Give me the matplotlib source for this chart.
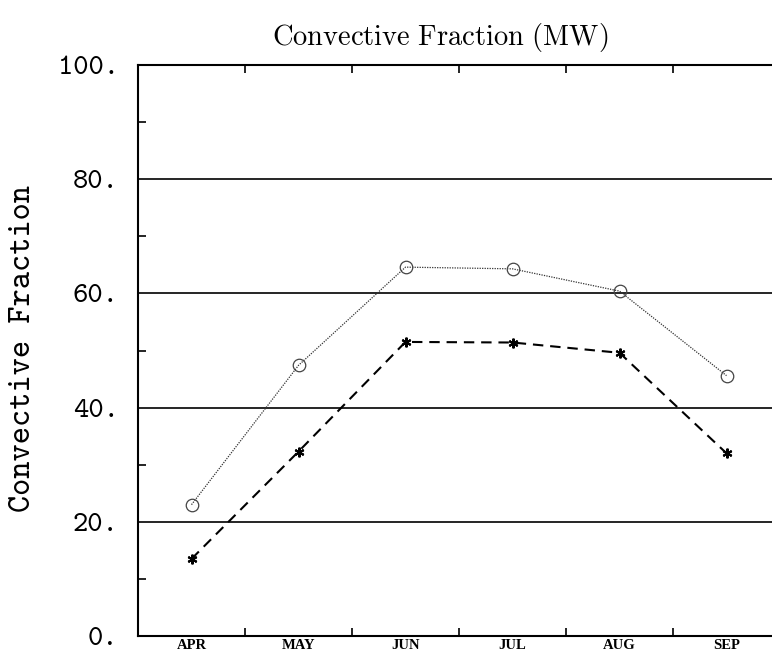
import os
import matplotlib
matplotlib.use("Agg")
import matplotlib.pyplot as plt
from matplotlib.ticker import FixedLocator
from matplotlib.font_manager import FontProperties

months = ['APR', 'MAY', 'JUN', 'JUL', 'AUG', 'SEP']
circle_vals = [23.0, 47.4, 64.6, 64.3, 60.4, 45.6]
star_vals = [13.5, 32.3, 51.5, 51.4, 49.6, 32.0]
y_ticks = [0, 20, 40, 60, 80, 100]
y_labels = ['0.', '20.', '40.', '60.', '80.', '100.']

plt.rcParams['mathtext.fontset'] = 'cm'
tt_path = os.path.join(matplotlib.get_data_path(), 'fonts', 'ttf', 'cmtt10.ttf')
tt_ticks = FontProperties(fname=tt_path, size=21)
tt_label = FontProperties(fname=tt_path, size=23.6)

W, H = 772, 653
fig = plt.figure(figsize=(W / 100, H / 100), dpi=100)
ax_l, ax_r, ax_t, ax_b = 138, 780, 65, 636
ax = fig.add_axes([ax_l / W, 1 - ax_b / H, (ax_r - ax_l) / W, (ax_b - ax_t) / H])

x = list(range(1, len(months) + 1))

for yv in [20, 40, 60, 80]:
    ax.axhline(yv, color='black', lw=1.2, zorder=1)

ax.plot(x, circle_vals, color='#333333', lw=0.9, linestyle=(0, (1, 1)),
        marker='o', markersize=9, markerfacecolor='none',
        markeredgecolor='#444444', markeredgewidth=0.9, zorder=3)
ax.plot(x, star_vals, color='black', lw=1.5, linestyle=(0, (5, 3.3)),
        marker=(6, 2, 0), markersize=7, markeredgecolor='black',
        markeredgewidth=1.5, zorder=3)

ax.set_xlim(0.5, 6.5)
ax.set_ylim(0, 100)

ax.set_xticks(x)
ax.set_xticklabels(months, fontfamily='Liberation Serif', fontweight='bold',
                   fontsize=10.5)
ax.tick_params(axis='x', which='major', length=0, pad=2)
ax.xaxis.set_minor_locator(FixedLocator([1.5, 2.5, 3.5, 4.5, 5.5]))
ax.tick_params(axis='x', which='minor', direction='in', length=6, width=1.2,
               top=True, bottom=True)

ax.set_yticks(y_ticks)
ax.set_yticklabels(y_labels)
for lab in ax.get_yticklabels():
    lab.set_fontproperties(tt_ticks)
ax.tick_params(axis='y', which='major', length=0, pad=14)
ax.yaxis.set_minor_locator(FixedLocator([10, 30, 50, 70, 90]))
ax.tick_params(axis='y', which='minor', direction='in', length=6, width=1.2,
               left=True)

for s in ['left', 'bottom', 'top']:
    ax.spines[s].set_linewidth(1.5)
ax.spines['right'].set_visible(False)

fig.text(24 / W, 1 - 348 / H, 'Convective Fraction', rotation=90,
         ha='center', va='center', fontproperties=tt_label)
fig.text(440 / W, 1 - 38 / H, r'$\mathrm{Convective\ Fraction\ (MW)}$',
         ha='center', va='center', fontsize=20.5)

fig.savefig('out.png', dpi=100)
